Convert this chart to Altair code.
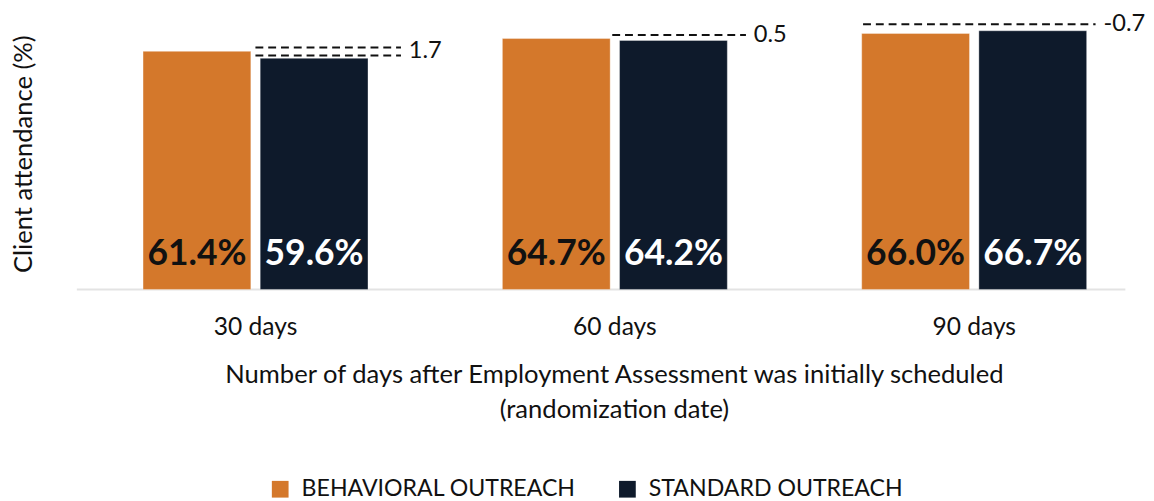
import altair as alt
import pandas as pd

days = ["30 days", "60 days", "90 days"]
groups = ["BEHAVIORAL OUTREACH", "STANDARD OUTREACH"]
behavioral = [61.4, 64.7, 66.0]
standard = [59.6, 64.2, 66.7]
diff_labels = ["1.7", "0.5", "-0.7"]

# dashed difference guides: x in group units (0..3 across the days axis), y in %
line_x_start = [0.497, 0.497, 1.490, 2.188]
line_x_end = [0.902, 0.902, 1.862, 2.835]
line_y = [62.4, 60.3, 65.6, 68.4]
label_x = [0.902, 1.862, 2.835]
label_y = [61.4, 65.6, 68.4]

colors = ["#D4782B", "#0E1A2B"]
FONT = "Lato"
W, H = 1066, 276
XR = 1096  # full width of the three day groups (the original is clipped by the window on the right)

bars_df = pd.DataFrame({
    "day": days * 2,
    "group": [groups[0]] * 3 + [groups[1]] * 3,
    "value": behavioral + standard,
})
bars_df["label"] = bars_df["value"].map(lambda v: f"{v:.1f}%")

lines_df = pd.DataFrame({"x1": line_x_start, "x2": line_x_end, "y": line_y})
labels_df = pd.DataFrame({"x": label_x, "y": label_y, "t": diff_labels})

# band scale laid out as if the plot were XR wide, aligned so that it is cut on the right
step = XR / 3
p_inner = 0.374
p_outer = (W / step - 3 + p_inner) / 2
x_scale = alt.Scale(domain=days, paddingInner=p_inner, paddingOuter=p_outer,
                    align=67.3 / (W - step * (3 - p_inner)))
xo_scale = alt.Scale(domain=groups, paddingInner=0.08, paddingOuter=0)
y_scale = alt.Scale(domain=[0, 70])
ann_scale = alt.Scale(domain=[0, 3 * W / XR], nice=False, zero=False)

baseline = alt.Chart(pd.DataFrame({"v": [0]})).mark_rule(
    color="#e3e3e3", strokeWidth=2
).encode(y=alt.Y("v:Q", scale=y_scale), x=alt.value(0), x2=alt.value(W))

bars = alt.Chart(bars_df).mark_bar(stroke="white", strokeOpacity=0.35, strokeWidth=1).encode(
    x=alt.X("day:N", scale=x_scale, sort=days,
            axis=alt.Axis(title=["Number of days after Employment Assessment was initially scheduled",
                                 "(randomization date)"],
                          labelAngle=0, ticks=False, domain=False, grid=False,
                          labelFontSize=25, labelFont=FONT, labelColor="#111111", labelPadding=26,
                          titleFontSize=26, titleFont=FONT, titleFontWeight="normal", titleColor="#111111",
                          titlePadding=23, titleLineHeight=35, titleX=546, titleAlign="center")),
    xOffset=alt.XOffset("group:N", scale=xo_scale),
    y=alt.Y("value:Q", scale=y_scale,
            axis=alt.Axis(title="Client attendance (%)", labels=False, ticks=False, domain=False, grid=False,
                          titleFontSize=26, titleFont=FONT, titleFontWeight="normal", titleColor="#111111",
                          titlePadding=41)),
    color=alt.Color("group:N", scale=alt.Scale(domain=groups, range=colors),
                    legend=alt.Legend(title=None, orient="none", legendX=195, legendY=467,
                                      direction="horizontal", symbolType="square", symbolSize=289,
                                      symbolStrokeWidth=0, labelFontSize=23.5, labelFont=FONT,
                                      labelColor="#111111", labelOffset=10, labelLimit=0,
                                      columnPadding=40, padding=0)),
)

bar_text = alt.Chart(bars_df).mark_text(
    font=FONT, fontWeight="bold", fontSize=36, baseline="alphabetic", dy=-25
).encode(
    x=alt.X("day:N", scale=x_scale, sort=days, axis=None),
    xOffset=alt.XOffset("group:N", scale=xo_scale),
    y=alt.Y("zero:Q", scale=y_scale),
    text="label:N",
    color=alt.condition(alt.datum.group == groups[0], alt.value("#111111"), alt.value("#ffffff")),
).transform_calculate(zero="0")

lines = alt.Chart(lines_df).mark_rule(color="#111111", strokeWidth=2, strokeDash=[8, 5]).encode(
    x=alt.X("x1:Q", scale=ann_scale, axis=None),
    x2="x2:Q",
    y=alt.Y("y:Q", scale=y_scale),
)

ann_labels = alt.Chart(labels_df).mark_text(
    align="left", baseline="middle", dx=8, fontSize=24, font=FONT, color="#111111"
).encode(
    x=alt.X("x:Q", scale=ann_scale, axis=None),
    y=alt.Y("y:Q", scale=y_scale),
    text="t:N",
)

chart = alt.layer(baseline, bars, bar_text, lines, ann_labels).resolve_scale(
    x="independent"
).properties(
    width=W, height=H, padding={"left": 2, "top": 0, "right": 0, "bottom": 0}
).configure(font=FONT).configure_view(stroke=None)

chart.save("out.html", embed_options={"renderer": "svg", "actions": False})
